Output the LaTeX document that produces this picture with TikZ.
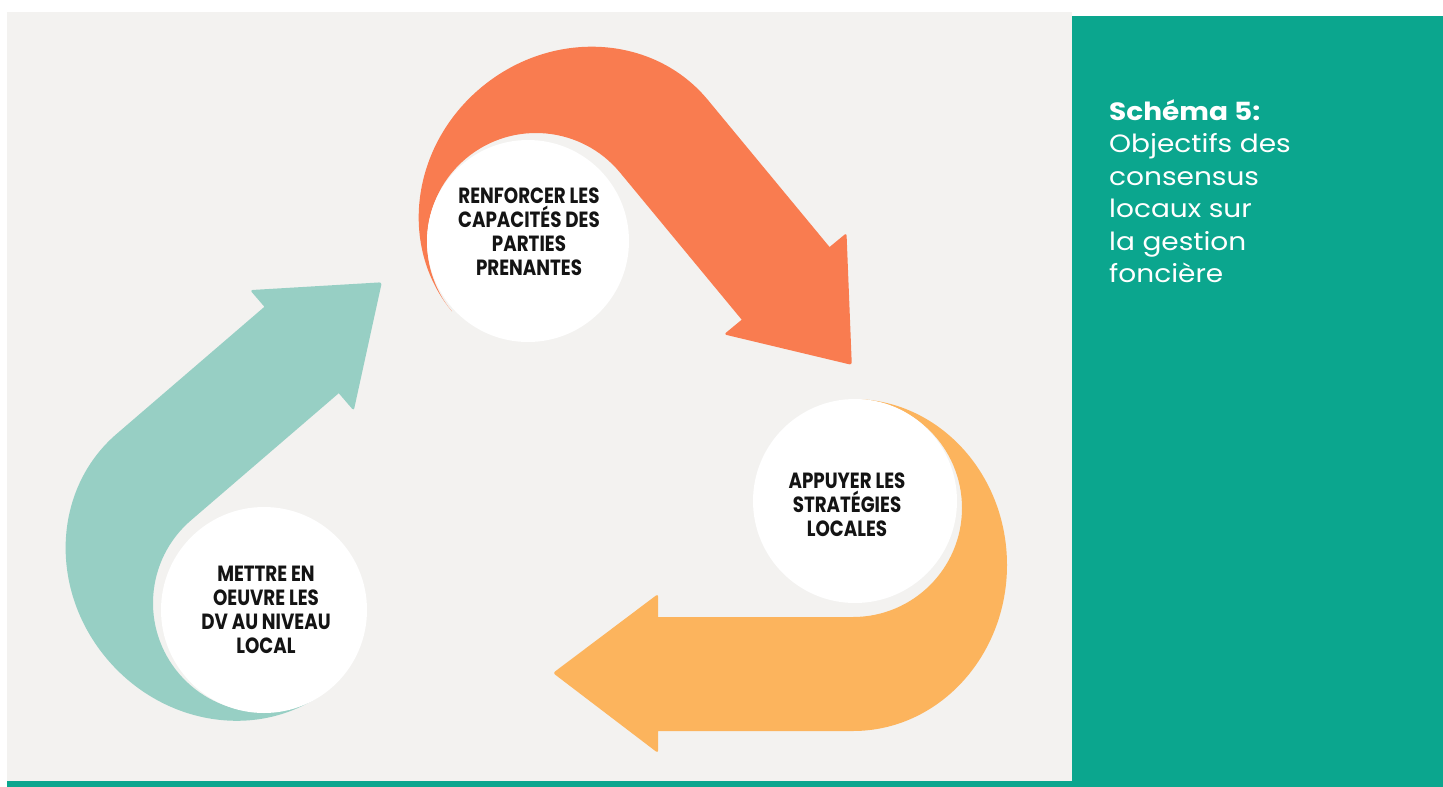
\documentclass[tikz,border=0pt]{standalone}
\usepackage{fontspec}
\setmainfont{Poppins}
\newfontfamily\labfont[FakeStretch=0.83]{Poppins}
\newfontfamily\sidefont[FakeStretch=1.12]{Poppins}
\definecolor{bggray}{HTML}{F3F2F0}
\definecolor{panelgreen}{HTML}{0BA68E}
\definecolor{arrorange}{HTML}{F97C50}
\definecolor{arryellow}{HTML}{FCB45D}
\definecolor{arrteal}{HTML}{97CFC4}
\tikzset{
  bubble/.style={circle, fill=white, inner sep=0pt},
  bubbletext/.style={align=center, inner sep=0pt, text=black!92,
    font=\labfont\bfseries\fontsize{22}{24}\selectfont},
  sidetext/.style={anchor=north west, inner sep=0pt, align=left, text=white,
    font=\sidefont\fontsize{25}{32.5}\selectfont},
}
% curled arrow: colour, centre x, centre y, rotation, straight length
\newcommand\curlarrow[5]{%
  \begin{scope}[shift={(#2,#3)}, rotate=#4]
    \fill[#1] (0,-109) arc[start angle=270, end angle=450, x radius=154, y radius=166]
      -- (-#5,223) [rounded corners=2.5pt] -- (-#5,245) -- (-#5-105,165) -- (-#5,86)
      [sharp corners] -- (-#5,109) -- (0,109)
      arc[start angle=90, end angle=-90, radius=109] -- cycle;
  \end{scope}}
\begin{document}
\begin{tikzpicture}[x=1pt,y=-1pt]
\useasboundingbox (0,0) rectangle (1443,787);
\fill[white] (0,0) rectangle (1443,787);
\fill[bggray] (7,12) rectangle (1072,781);
\fill[panelgreen] (1072,16) rectangle (1443,787);
\fill[panelgreen] (7,781) rectangle (1443,787);

\curlarrow{arrorange}{536}{242}{129.6}{191}
\curlarrow{arryellow}{853}{508}{0}{195}
\curlarrow{arrteal}{262}{603}{-139.3}{195}

\node[bubble, minimum size=202pt] (c1) at (528,241) {};
\node[bubble, minimum size=204pt] (c2) at (855,501) {};
\node[bubble, minimum size=206pt] (c3) at (264,610) {};

\node[bubbletext] (t1) at (529,232) {RENFORCER LES\\CAPACITÉS DES\\PARTIES\\PRENANTES};
\node[bubbletext] (t2) at (847,505) {APPUYER LES\\STRATÉGIES\\LOCALES};
\node[bubbletext] (t3) at (266,610) {METTRE EN\\OEUVRE LES\\DV AU NIVEAU\\LOCAL};

\node[sidetext] (title) at (1109,99) {\textbf{Schéma 5:}\\Objectifs des\\consensus\\locaux sur\\la gestion\\foncière};
\end{tikzpicture}
\end{document}
